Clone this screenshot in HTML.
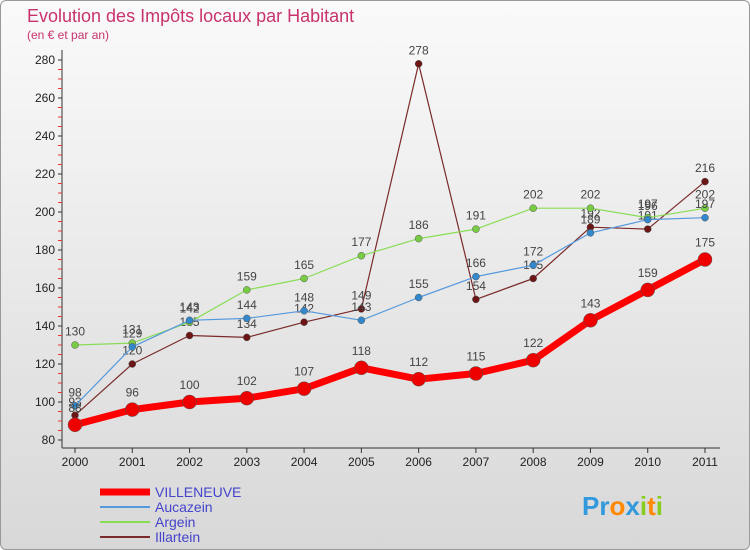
<!DOCTYPE html>
<html><head><meta charset="utf-8"><style>
body{margin:0;width:750px;height:550px;overflow:hidden;font-family:"Liberation Sans",sans-serif}
#bg{position:absolute;left:0;top:0;width:748px;height:548px;border:1px solid #999;border-radius:6px;background:linear-gradient(#fafafa,#d8d8d8)}
</style></head><body>
<div id="bg"></div>
<svg id="c" width="750" height="550" style="position:absolute;left:0;top:0"></svg>
<script>
const years=['2000','2001','2002','2003','2004','2005','2006','2007','2008','2009','2010','2011'];
const villeneuve=[88,96,100,102,107,118,112,115,122,143,159,175];
const aucazein=[98,129,143,144,148,143,155,166,172,189,196,197];
const argein=[130,131,142,159,165,177,186,191,202,202,197,202];
const illartein=[93,120,135,134,142,149,278,154,165,192,191,216];
const yTicks=[80,100,120,140,160,180,200,220,240,260,280];
const NS='http://www.w3.org/2000/svg';
const svg=document.getElementById('c');
const X=i=>75+i*(630/11);
const Y=v=>440-(v-80)*1.9;
function mk(t,a,p){const e=document.createElementNS(NS,t);for(const k in a)e.setAttribute(k,a[k]);(p||svg).appendChild(e);return e;}
let t=mk('text',{x:27,y:22,fill:'#c8326e','font-size':18});t.textContent='Evolution des Impôts locaux par Habitant';

t=mk('text',{x:27,y:39,fill:'#c8326e','font-size':12});t.textContent='(en € et par an)';

let ax=mk('line',{x1:62,y1:50,x2:62,y2:448,stroke:'#333'});

ax=mk('line',{x1:62,y1:448,x2:720,y2:448,stroke:'#333'});

for(let v=80;v<=280;v+=5){mk('line',{x1:58,y1:Y(v),x2:62,y2:Y(v),stroke:v%20==0?'#333':'#e33'});}
yTicks.forEach(v=>{const e=mk('text',{x:55,y:Y(v)+4,'text-anchor':'end','font-size':12,fill:'#222'});e.textContent=v;
});
years.forEach((y,i)=>{mk('line',{x1:X(i),y1:448,x2:X(i),y2:453,stroke:'#333'});const e=mk('text',{x:X(i),y:466,'text-anchor':'middle','font-size':12,fill:'#222'});e.textContent=y;
});
function series(d,col,w,r,name,dot){
 const p=mk('polyline',{points:d.map((v,i)=>X(i)+','+Y(v)).join(' '),fill:'none',stroke:col,'stroke-width':w,'stroke-linejoin':'round'});
 
 d.forEach((v,i)=>{const c=mk('circle',{cx:X(i),cy:Y(v),r:r,fill:dot,stroke:'#555','stroke-width':0.5});
 
 const l=mk('text',{x:X(i),y:Y(v)-r-6,'text-anchor':'middle','font-size':12,fill:'#444'});l.textContent=v;
 });
}
series(illartein,'#7a2a2a',1.2,3.5,'illartein','#6b1515');
series(argein,'#88dd55',1.2,3.5,'argein','#77cc44');
series(aucazein,'#5599dd',1.2,3.5,'aucazein','#3388cc');
series(villeneuve,'#ff0000',7,7,'villeneuve','#ee0000');
const leg=[['VILLENEUVE','#ff0000',7],['Aucazein','#5599dd',2],['Argein','#88dd55',2],['Illartein','#7a2a2a',2]];
leg.forEach((l,i)=>{const y=492+i*15;const ln=mk('line',{x1:100,y1:y,x2:150,y2:y,stroke:l[1],'stroke-width':l[2]});

const e=mk('text',{x:155,y:y+5,'font-size':14,fill:'#4444cc'});e.textContent=l[0];
});
const lg=mk('text',{x:582,y:515,'font-size':26,'font-weight':'bold',fill:'#3399dd'});
lg.innerHTML='<tspan fill="#3399dd">Pr</tspan><tspan fill="#ff8800">o</tspan><tspan fill="#3399dd">x</tspan><tspan fill="#88cc22">i</tspan><tspan fill="#ff8800">t</tspan><tspan fill="#88cc22">i</tspan>';

</script></body></html>
